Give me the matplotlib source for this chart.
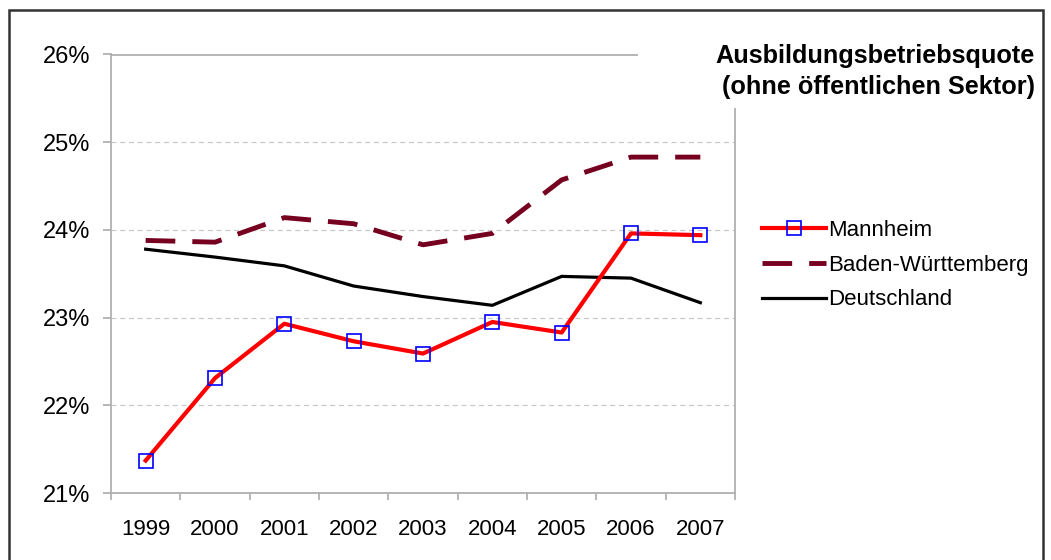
import matplotlib
matplotlib.use("Agg")
import matplotlib.pyplot as plt
from matplotlib.patches import Rectangle
from matplotlib.ticker import FuncFormatter, FixedLocator

plt.rcParams['font.family'] = ['Liberation Sans', 'DejaVu Sans']

# data
years = ["1999", "2000", "2001", "2002", "2003", "2004", "2005", "2006", "2007"]
mannheim = [21.37, 22.31, 22.93, 22.73, 22.59, 22.95, 22.83, 23.96, 23.94]
baden_wuerttemberg = [23.88, 23.86, 24.14, 24.07, 23.83, 23.96, 24.57, 24.83, 24.83]
deutschland = [23.78, 23.69, 23.59, 23.36, 23.24, 23.14, 23.47, 23.45, 23.17]
yticks = [21, 22, 23, 24, 25, 26]

title = "Ausbildungsbetriebsquote\n(ohne öffentlichen Sektor)"

fig = plt.figure(figsize=(10.51, 5.6), dpi=100)
ax = fig.add_axes([111 / 1051, 1 - 493 / 560, (735 - 111) / 1051, (493 - 54.5) / 560])

x = list(range(len(years)))
ax.plot(x, mannheim, color="#ff0000", lw=3.0, marker="s", ms=10,
        mfc="none", mec="#0000ff", mew=1.2, label="Mannheim", zorder=4)
ax.plot(x, baden_wuerttemberg, color="#76001f", lw=3.5, dashes=(6.1, 3.5),
        label="Baden-Württemberg", zorder=3)
ax.plot(x, deutschland, color="black", lw=2.3, label="Deutschland", zorder=3)

ax.set_xlim(-0.5, len(years) - 0.5)
ax.set_ylim(21, 26)
ax.set_yticks(yticks)
ax.yaxis.set_major_formatter(FuncFormatter(lambda v, p: "%d%%" % v))
ax.set_xticks(x)
ax.set_xticklabels(years)
ax.xaxis.set_minor_locator(FixedLocator([i - 0.5 for i in range(len(years) + 1)]))
ax.tick_params(axis="x", which="major", length=0, pad=19, labelsize=16)
ax.tick_params(axis="x", which="minor", length=5, color="#aaaaaa", width=1.2, direction="out")
ax.tick_params(axis="y", length=6, color="#aaaaaa", width=1.2, direction="out", pad=9, labelsize=17)

ax.grid(axis="y", color="#c8c8c8", ls=(0, (4, 3)), lw=0.9)
for s in ["left", "bottom", "top", "right"]:
    ax.spines[s].set_color("#b0b0b0")
    ax.spines[s].set_linewidth(1.3)

fig.legend(loc="upper left", bbox_to_anchor=(753 / 1051, 1 - 211 / 560), frameon=False,
           fontsize=16, handlelength=2.9, handletextpad=0.1, labelspacing=0.62,
           borderaxespad=0)

# white title box hiding the top-right corner of the plot frame
fig.patches.append(Rectangle((638 / 1051, 1 - 108 / 560), (1040 - 638) / 1051, (108 - 25) / 560,
                             transform=fig.transFigure, facecolor="white", edgecolor="none",
                             zorder=5))
fig.text(1035 / 1051, 1 - 44 / 560, title, ha="right", va="top", fontsize=18.2,
         fontweight="bold", linespacing=1.35, zorder=6)

fig.patches.append(Rectangle((9 / 1051, -0.05), (1043 - 9) / 1051, 1.05 - 10 / 560,
                             transform=fig.transFigure, fill=False, edgecolor="#333333",
                             lw=1.8, zorder=10))

fig.savefig("out.png", dpi=100)
